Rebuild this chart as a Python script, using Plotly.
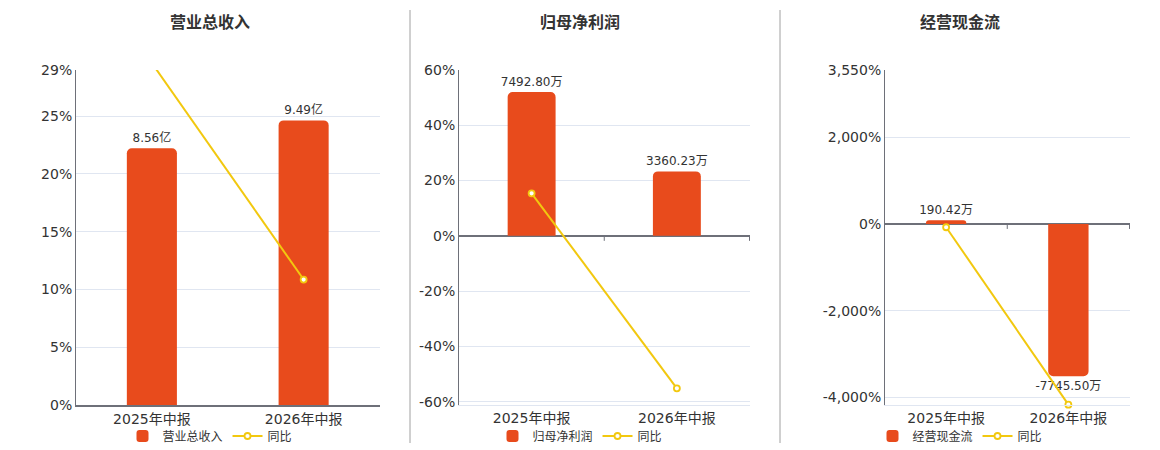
import plotly.graph_objects as go

# data
periods = ["2025年中报", "2026年中报"]

revenue = [8.56, 9.49]  # 亿
revenue_yoy = [29.6, 10.86]  # %
profit = [7492.80, 3360.23]  # 万
profit_yoy = [15.4, -55.15]  # %
cashflow = [190.42, -7745.50]  # 万
cashflow_yoy = [-76.0, -4167.5]  # %

titles = ["营业总收入", "归母净利润", "经营现金流"]
units = ["亿", "万", "万"]

pct_ticks = [
    [0, 5, 10, 15, 20, 25, 29],
    [-60, -40, -20, 0, 20, 40, 60],
    [-4000, -2000, 0, 2000, 3550],
]
pct_ranges = [[0, 29], [-61.2, 60], [-4175, 3550]]
bar_tops = [11.17, 8645, 7834]

BAR = "#E84B1C"
LINE = "#F2C80F"
AXIS = "#6E7079"
GRID = "#E0E6F1"
TXT = "#333333"
FONT = "DejaVu Sans, Noto Sans CJK SC, sans-serif"

# page body has an 8px margin, so the figure starts at (8, 8)
OFF = 8
W, H = 1160 - OFF, 450 - OFF


def fx(px):
    return (px - OFF) / W


def fy(py):
    return 1 - (py - OFF) / H


x_domains = [[fx(76), fx(380)], [fx(459), fx(750)], [fx(885), fx(1130)]]
y_domain = [fy(405), fy(70)]
title_x = [fx(210), fx(580), fx(960)]
legend_x = [fx(210), fx(580), fx(960)]

series = [
    (revenue, revenue_yoy),
    (profit, profit_yoy),
    (cashflow, cashflow_yoy),
]

fig = go.Figure()
layout = dict(shapes=[], annotations=[])

for i, (bars, yoy) in enumerate(series):
    n = i + 1
    xa = "x" if n == 1 else f"x{n}"
    ya = "y" if n == 1 else f"y{n}"
    yl = f"y{n + 3}"
    leg = "legend" if n == 1 else f"legend{n}"

    fig.add_trace(go.Bar(
        x=periods, y=bars, name=titles[i],
        xaxis=xa, yaxis=ya, legend=leg,
        width=0.33,
        marker=dict(color=BAR, cornerradius=5, line=dict(width=0)),
        text=[f"{v:.2f}{units[i]}" for v in bars],
        textposition="outside", cliponaxis=False, constraintext="none",
        textfont=dict(size=12, color=TXT),
    ))
    fig.add_trace(go.Scatter(
        x=periods, y=yoy, name="同比", mode="lines+markers",
        xaxis=xa, yaxis=yl, legend=leg,
        cliponaxis=(i == 0),  # first panel's off-scale point stays hidden
        line=dict(color=LINE, width=2),
        marker=dict(size=6, color="white", line=dict(color=LINE, width=1.8)),
    ))

    lo, hi = pct_ranges[i]
    bar_lo = lo / hi * bar_tops[i]
    if i == 2:
        ticktext = [f"{v:,}%" for v in pct_ticks[i]]
    else:
        ticktext = [f"{v}%" for v in pct_ticks[i]]

    layout[f"xaxis{'' if n == 1 else n}"] = dict(
        domain=x_domains[i], anchor=ya, type="category",
        showline=True, linecolor=AXIS if i == 0 else GRID, linewidth=1.5 if i == 0 else 1,
        ticks="", showgrid=False,
        tickfont=dict(size=14, color=TXT),
    )
    layout[f"yaxis{'' if n == 1 else n}"] = dict(
        domain=y_domain, anchor=xa, range=[bar_lo, bar_tops[i]], visible=False,
    )
    layout[f"yaxis{n + 3}"] = dict(
        overlaying=ya, anchor=xa, side="left", range=[lo, hi],
        tickvals=pct_ticks[i], ticktext=ticktext,
        showgrid=True, gridcolor=GRID, gridwidth=1,
        showline=True, linecolor=AXIS, linewidth=1,
        zeroline=True, zerolinecolor=AXIS, zerolinewidth=1.5,
        ticks="", tickfont=dict(size=14, color=TXT),
    )
    layout[leg] = dict(
        orientation="h", x=legend_x[i], xanchor="center",
        y=fy(436), yanchor="middle",
        font=dict(size=12, color=TXT), bgcolor="rgba(0,0,0,0)",
        itemwidth=30,
    )
    layout["annotations"].append(dict(
        text=f"<b>{titles[i]}</b>", x=title_x[i], y=fy(22),
        xref="paper", yref="paper", xanchor="center", yanchor="middle",
        showarrow=False, font=dict(size=16, color=TXT),
    ))
    # category boundary ticks on the zero line
    for b in [0.5, 1.5]:
        layout["shapes"].append(dict(
            type="line", xref=xa, yref=yl, x0=b, x1=b,
            ysizemode="pixel", yanchor=0, y0=0, y1=-5,
            line=dict(color=AXIS, width=1),
        ))

# panel separators
for sx in [410, 780]:
    layout["shapes"].append(dict(
        type="line", xref="paper", yref="paper",
        x0=fx(sx), x1=fx(sx), y0=fy(10), y1=fy(443),
        line=dict(color="#A0A0A0", width=1),
    ))

fig.update_layout(
    **layout,
    width=W, height=H,
    margin=dict(l=0, r=0, t=0, b=0, autoexpand=False),
    paper_bgcolor="white", plot_bgcolor="white",
    font=dict(family=FONT, color=TXT),
    bargap=0.67,
)

fig.write_html("out.html")
